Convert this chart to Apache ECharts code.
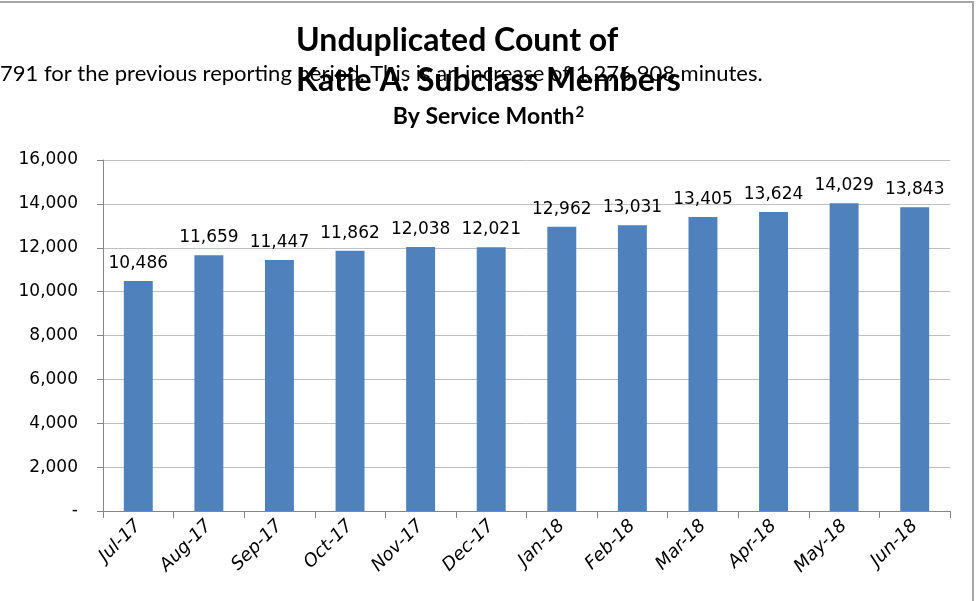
<!DOCTYPE html>
<html>
<head>
<meta charset="utf-8">
<script src="https://cdn.jsdelivr.net/npm/echarts@6/dist/echarts.min.js"></script>
<style>
  html, body { margin: 0; padding: 0; background: #fff; }
  #chart { width: 977px; height: 601px; }
</style>
</head>
<body>
<div id="chart"></div>
<script>
// service months
var months = ['Jul-17', 'Aug-17', 'Sep-17', 'Oct-17', 'Nov-17', 'Dec-17',
  'Jan-18', 'Feb-18', 'Mar-18', 'Apr-18', 'May-18', 'Jun-18']
// unduplicated member counts
var members = [10486, 11659, 11447, 11862, 12038, 12021,
  12962, 13031, 13405, 13624, 14029, 13843]
var yTicks = [0, 2000, 4000, 6000, 8000, 10000, 12000, 14000, 16000]

function fmt (v) {
  if (v === 0) return '-'
  return v.toLocaleString('en-US')
}

var myChart = echarts.init(document.getElementById('chart'))
myChart.setOption({
  animation: false,
  graphic: [
    {
      type: 'rect',
      shape: { x: -2, y: 2, width: 975, height: 620 },
      style: { fill: 'none', stroke: '#a6a6a6', lineWidth: 2 }
    },
    {
      type: 'text',
      left: 0,
      top: 63,
      style: {
        text: '791 for the previous reporting period. This is an increase of 1,276,908 minutes.',
        font: '22px Lato, "Open Sans", sans-serif',
        fill: '#000'
      }
    },
    {
      type: 'text',
      left: 'center',
      top: 21,
      style: {
        text: 'Unduplicated Count of\nKatie A. Subclass Members',
        font: 'bold 32px Lato, "Open Sans", sans-serif',
        lineHeight: 40,
        align: 'center',
        fill: '#000'
      }
    },
    {
      type: 'text',
      left: 'center',
      top: 105,
      style: {
        text: '{a|By Service Month}{s|2}',
        rich: {
          a: { font: 'bold 23px Lato, "Open Sans", sans-serif', fill: '#000' },
          s: { font: 'bold 15px Lato, "Open Sans", sans-serif', fill: '#000', verticalAlign: 'top', padding: [0, 0, 8, 1] }
        },
        fill: '#000'
      }
    }
  ],
  grid: { left: 103, right: 27, top: 160, bottom: 90 },
  xAxis: {
    type: 'category',
    data: months,
    axisLine: { lineStyle: { color: '#868686' } },
    axisTick: { show: true, length: 7, lineStyle: { color: '#868686' } },
    axisLabel: {
      rotate: 45,
      interval: 0,
      margin: 12,
      fontStyle: 'italic',
      fontFamily: 'DejaVu Sans',
      fontSize: 18,
      color: '#000'
    }
  },
  yAxis: {
    type: 'value',
    min: 0,
    max: 16000,
    interval: 2000,
    axisLine: { show: true, lineStyle: { color: '#868686' } },
    axisTick: { show: true, length: 6, lineStyle: { color: '#868686' } },
    splitLine: { lineStyle: { color: '#c0c0c0' } },
    axisLabel: {
      margin: 25,
      fontFamily: 'DejaVu Sans',
      fontSize: 17,
      color: '#000',
      formatter: function (v) {
        return yTicks.indexOf(v) >= 0 ? fmt(v) : ''
      }
    }
  },
  series: [{
    type: 'bar',
    data: members,
    barWidth: '41%',
    itemStyle: { color: '#4f81bd' },
    label: {
      show: true,
      position: 'top',
      distance: 9,
      fontFamily: 'DejaVu Sans',
      fontSize: 17,
      color: '#000',
      formatter: function (p) { return fmt(p.value) }
    }
  }]
})
</script>
</body>
</html>
